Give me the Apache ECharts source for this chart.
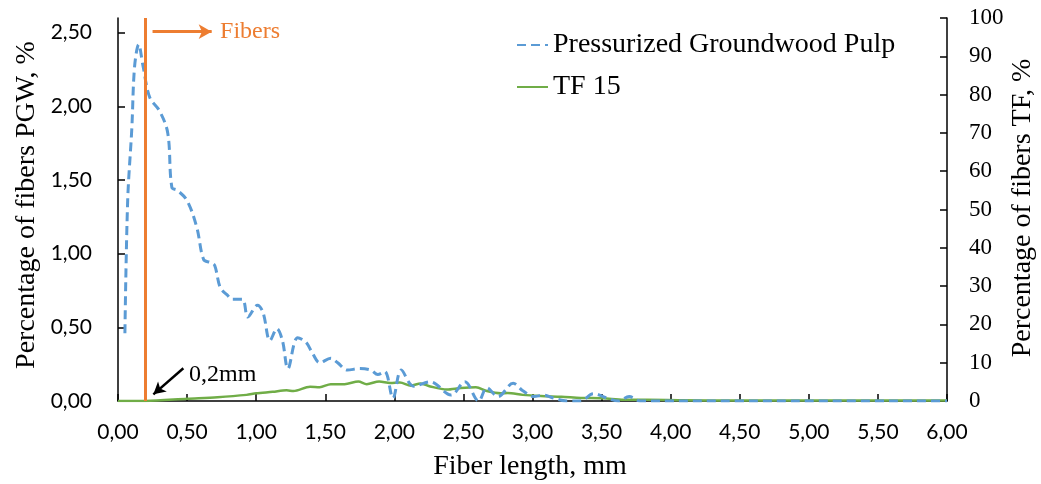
<!DOCTYPE html>
<html>
<head>
<meta charset="utf-8">
<script src="https://cdn.jsdelivr.net/npm/echarts@6/dist/echarts.min.js"></script>
<style>html,body{margin:0;padding:0;background:#fff;}#c{width:1041px;height:484px;}</style>
</head>
<body>
<div id="c"></div>
<script>
// Fiber length (mm) and percentage values
const pgwLength = [0.05,0.07,0.10,0.12,0.15,0.18,0.23,0.30,0.36,0.39,0.43,0.50,0.57,0.62,0.67,0.70,0.74,0.79,0.83,0.90,0.94,1.01,1.05,1.10,1.15,1.19,1.23,1.30,1.36,1.41,1.46,1.54,1.59,1.66,1.75,1.83,1.88,1.93,1.99,2.05,2.14,2.26,2.41,2.51,2.61,2.67,2.75,2.86,2.93,3.01,3.08,3.15,3.25,3.35,3.44,3.54,3.62,3.70,3.78,4.50,5.00,6.00];
const pgwPercent = [0.46,1.36,1.85,2.27,2.42,2.28,2.06,1.97,1.82,1.45,1.43,1.36,1.18,0.96,0.94,0.92,0.77,0.72,0.69,0.69,0.57,0.65,0.60,0.41,0.49,0.41,0.22,0.43,0.40,0.32,0.26,0.29,0.26,0.21,0.22,0.21,0.18,0.20,0.02,0.21,0.10,0.13,0.04,0.13,0.00,0.09,0.03,0.12,0.07,0.03,0.04,0.02,0.00,0.00,0.05,0.02,0.00,0.03,0.00,0.00,0.00,0.00];
const tfLength = [0.00,0.20,0.50,0.72,0.93,1.00,1.12,1.22,1.27,1.39,1.46,1.54,1.64,1.74,1.80,1.89,1.97,2.04,2.12,2.19,2.26,2.38,2.48,2.59,2.67,2.77,2.82,2.93,3.06,3.21,3.35,3.51,3.66,3.83,4.07,4.50,5.00,6.00];
const tfPercent = [0.0,0.0,0.6,1.0,1.6,2.0,2.4,2.8,2.6,3.7,3.6,4.4,4.4,5.1,4.4,5.1,4.7,4.8,4.0,4.6,3.8,3.0,3.4,3.6,2.6,2.0,2.1,1.6,1.3,1.1,0.8,0.7,0.3,0.3,0.2,0.1,0.1,0.1];
const leftTicks = [0,0.5,1.0,1.5,2.0,2.5];
const fiberLimit = 0.2;

const serif = 'Liberation Serif';
const sans = 'Lato';
const fmt2 = v => v.toFixed(2).replace('.', ',');

const chart = echarts.init(document.getElementById('c'), null, {renderer:'canvas'});
const axisLine = {show:true, lineStyle:{color:'#000', width:1.5}};
const axisTick = {show:true, inside:true, length:7, lineStyle:{color:'#000', width:1.5}};

const option = {
  animation:false,
  backgroundColor:'#fff',
  grid:{left:118, right:94, top:18, bottom:83},
  legend:{
    orient:'vertical', left:516, top:30, padding:0,
    itemWidth:31, itemHeight:14, itemGap:12,
    itemStyle:{color:'transparent', borderWidth:0, opacity:0},
    textStyle:{fontFamily:serif, fontSize:28, lineHeight:30, color:'#000'},
    data:['Pressurized Groundwood Pulp','TF 15']
  },
  xAxis:{
    type:'value', min:0, max:6, interval:0.5,
    axisLine:axisLine, axisTick:axisTick, splitLine:{show:false},
    axisLabel:{formatter:fmt2, fontFamily:sans, fontSize:21, color:'#000', margin:21}
  },
  yAxis:[{
    type:'value', min:0, max:2.6, position:'left',
    axisLine:axisLine,
    axisTick:Object.assign({}, axisTick, {customValues:leftTicks}),
    splitLine:{show:false},
    axisLabel:{customValues:leftTicks, formatter:fmt2, fontFamily:sans, fontSize:21, color:'#000', margin:26}
  },{
    type:'value', min:0, max:100, interval:10, position:'right',
    axisLine:axisLine, axisTick:axisTick, splitLine:{show:false},
    axisLabel:{fontFamily:serif, fontSize:23, color:'#000', margin:22}
  }],
  series:[{
    name:'Pressurized Groundwood Pulp', type:'line', yAxisIndex:0,
    data:pgwLength.map((x,i)=>[x,pgwPercent[i]]),
    symbol:'none', smooth:0.35, z:3,
    lineStyle:{color:'#5B9BD5', width:3, type:[9,5]},
    itemStyle:{color:'#5B9BD5'},
    markLine:{
      silent:true, animation:false, z:4,
      label:{show:false},
      data:[
        [{xAxis:fiberLimit, yAxis:0, symbol:'none', lineStyle:{color:'#ED7D31', width:3, type:'solid'}},
         {xAxis:fiberLimit, yAxis:2.6, symbol:'none'}],
        [{coord:[0.25,2.507], symbol:'none', lineStyle:{color:'#ED7D31', width:3, type:'solid'}},
         {coord:[0.678,2.507], symbol:'arrow', symbolSize:[11,13]}],
        [{coord:[0.473,0.222], symbol:'none', lineStyle:{color:'#000', width:2.5, type:'solid'}},
         {coord:[0.256,0.045], symbol:'arrow', symbolSize:[10,12]}]
      ]
    }
  },{
    name:'TF 15', type:'line', yAxisIndex:1,
    data:tfLength.map((x,i)=>[x,tfPercent[i]]),
    symbol:'none', smooth:0.3, z:2,
    lineStyle:{color:'#70AD47', width:2.5, type:'solid'},
    itemStyle:{color:'#70AD47'}
  }]
};
chart.setOption(option);

const p1 = chart.convertToPixel({xAxisIndex:0, yAxisIndex:0}, [0.739, 2.505]);
const p2 = chart.convertToPixel({xAxisIndex:0, yAxisIndex:0}, [0.514, 0.177]);
chart.setOption({
  graphic:[
    {type:'text', x:p1[0], y:p1[1], style:{text:'Fibers', fill:'#ED7D31', font:'24px "Liberation Serif"', verticalAlign:'middle', align:'left'}},
    {type:'text', x:p2[0], y:p2[1], style:{text:'0,2mm', fill:'#000', font:'24px "Liberation Serif"', verticalAlign:'middle', align:'left'}},
    {type:'text', x:27, y:205, rotation:Math.PI/2, style:{text:'Percentage of fibers PGW, %', fill:'#000', font:'28px "Liberation Serif"', align:'center', verticalAlign:'middle'}},
    {type:'text', x:1023, y:208, rotation:Math.PI/2, style:{text:'Percentage of fibers TF, %', fill:'#000', font:'28px "Liberation Serif"', align:'center', verticalAlign:'middle'}},
    {type:'text', x:530, y:467, style:{text:'Fiber length, mm', fill:'#000', font:'28px "Liberation Serif"', align:'center', verticalAlign:'middle'}}
  ]
});
</script>
</body>
</html>
